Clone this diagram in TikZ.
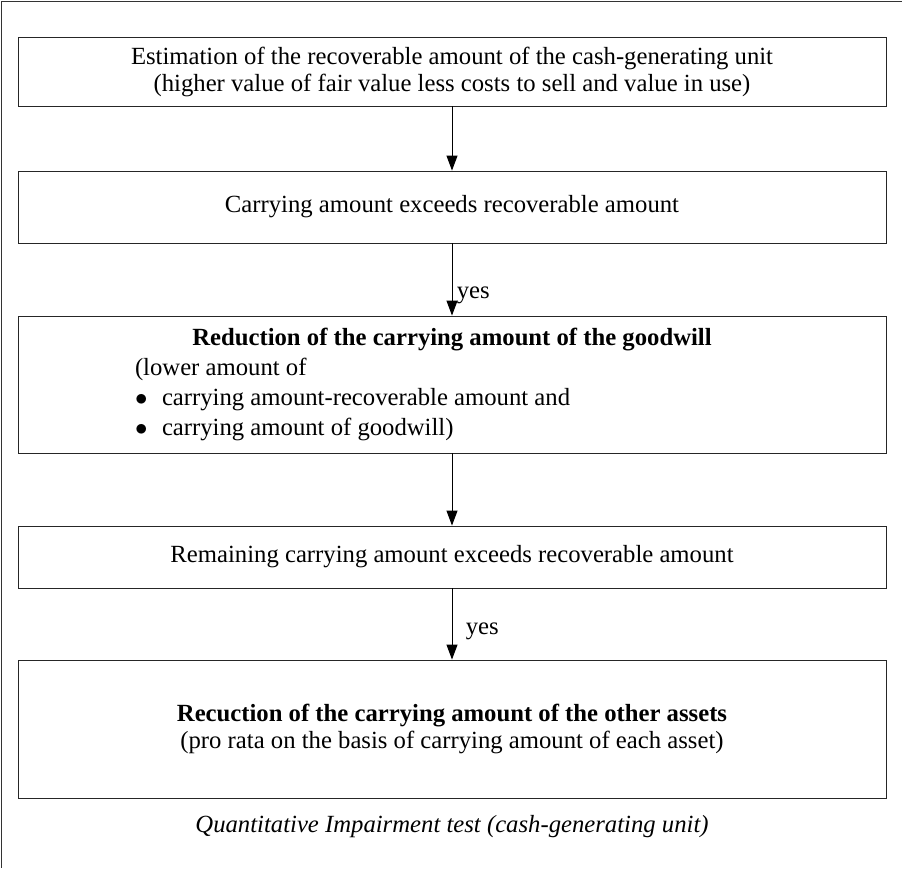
\documentclass[tikz,border=0pt]{standalone}
\usepackage{fontspec}
\setmainfont{Liberation Serif}
\usetikzlibrary{arrows.meta}

\begin{document}
\begin{tikzpicture}[x=1pt,y=-1pt,
  stepbox/.style={draw=black!85,line width=0.9pt,minimum width=868pt,inner sep=0pt,
    align=center,font=\fontsize{24.7}{27}\selectfont},
  flow/.style={-{Triangle[length=15pt,width=11pt]},line width=1pt},
  yeslabel/.style={font=\fontsize{24.7}{27}\selectfont}]
 \useasboundingbox (0,0) rectangle (902,868);
 \draw[black!80,line width=1pt] (902,1.5) -- (1.5,1.5) -- (1.5,868);

 \draw (452,71.5) node[stepbox,minimum height=69pt] (estim)
   {Estimation of the recoverable amount of the cash-generating unit\\
    (higher value of fair value less costs to sell and value in use)};
 \draw (452,207) node[stepbox,minimum height=72pt] (carry)
   {Carrying amount exceeds recoverable amount};
 \draw (452,384.5) node[stepbox,minimum height=137pt,text width=634pt,align=flush left,
   font=\fontsize{24.7}{30}\selectfont] (goodwill)
   {{\centering\bfseries Reduction of the carrying amount of the goodwill\par}
    (lower amount of\\
    \makebox[27pt][l]{$\bullet$}carrying amount-recoverable amount and\\
    \makebox[27pt][l]{$\bullet$}carrying amount of goodwill)};
 \draw (452,557) node[stepbox,minimum height=62pt] (remain)
   {Remaining carrying amount exceeds recoverable amount};
 \draw (452,729) node[stepbox,minimum height=138pt] (others)
   {\textbf{Recuction of the carrying amount of the other assets}\\
    (pro rata on the basis of carrying amount of each asset)};
 \draw (452,827) node[font=\itshape\fontsize{24.7}{27}\selectfont] (caption)
   {Quantitative Impairment test (cash-generating unit)};

 \path[flow] (estim) edge (carry);
 \path[flow] (carry) edge node[yeslabel,right=1pt,pos=0.72] {yes} (goodwill);
 \path[flow] (goodwill) edge (remain);
 \path[flow] (remain) edge node[yeslabel,right=10pt,pos=0.6] {yes} (others);
\end{tikzpicture}
\end{document}
